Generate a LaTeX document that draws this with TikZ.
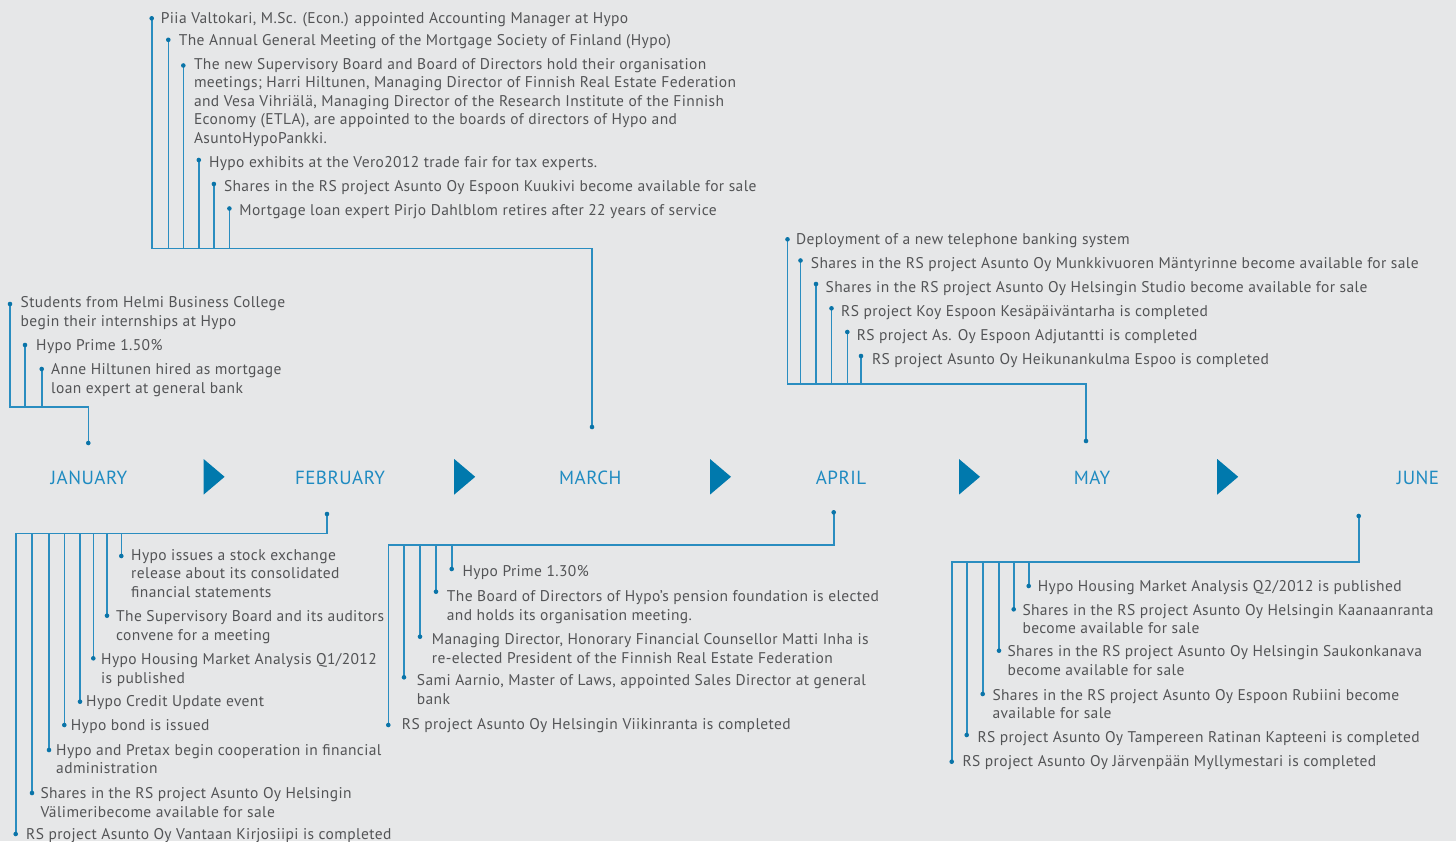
\documentclass[tikz,border=0pt]{standalone}
\usepackage{fontspec}
\setmainfont{PT Sans}[LetterSpace=2.5]
\definecolor{bgc}{HTML}{E6E7E8}
\definecolor{lineblue}{HTML}{2A8DC0}
\definecolor{dotblue}{HTML}{0A74A8}
\definecolor{monthblue}{HTML}{1F8BC1}
\definecolor{triblue}{HTML}{0079AD}
\definecolor{txtgrey}{HTML}{535456}
\pgfdeclarelayer{background}
\pgfsetlayers{background,main}
\tikzset{
  dot/.style={circle, fill=dotblue, inner sep=0pt, minimum size=4.6pt},
  conn/.style={draw=lineblue, line width=1.6pt},
  evt/.style={anchor=north west, inner sep=0pt, align=left, text=txtgrey, font=\fontsize{15.5}{18.5}\selectfont},
  month/.style={anchor=base, inner sep=0pt, text=monthblue, font=\fontsize{19}{22}\selectfont},
  tri/.style={fill=triblue}
}
\newcommand\evitem[6]{%
  \node[dot] (#1) at (#2,#3) {};
  \node[evt] (#1t) at (#4,#5-12.95) {\strut #6};
}
\begin{document}
\begin{tikzpicture}[x=1pt,y=-1pt]
\begin{pgfonlayer}{background}
\fill[bgc] (0,0) rectangle (1456,841);
\end{pgfonlayer}
\useasboundingbox (0,0) rectangle (1456,841);

% ---------- months ----------
\node[month] (jan) at (89,484.3) {JANUARY};
\node[month] (feb) at (340,484.3) {FEBRUARY};
\node[month] (marl) at (590.3,484.3) {MARCH};
\node[month] (apr) at (841,484.3) {APRIL};
\node[month] (may) at (1092,484.3) {MAY};
\node[month] (jun) at (1418,484.3) {JUNE};
\foreach \tx in {203.6,454.2,710,959,1217.2}
  \fill[tri] (\tx,459) -- (\tx+21,476.8) -- (\tx,494.6) -- cycle;

% ---------- January ----------
\evitem{j1}{10}{304}{20.5}{307.7}{Students from Helmi Business College\\begin their internships at Hypo}
\evitem{j2}{25}{345}{36}{350}{Hypo Prime 1.50\%}
\evitem{j3}{41.7}{369}{51}{374.3}{Anne Hiltunen hired as mortgage\\loan expert at general bank}
\node[dot] (jd) at (88.3,443) {};
\coordinate (jh) at (88.3,407);

% ---------- March ----------
\evitem{m1}{151.7}{18.3}{160.7}{23.3}{Piia Valtokari, M.Sc. (Econ.) appointed Accounting Manager at Hypo}
\evitem{m2}{168.3}{39.8}{178.6}{45.5}{The Annual General Meeting of the Mortgage Society of Finland (Hypo)}
\evitem{m3}{183.3}{65.5}{193.8}{69}{The new Supervisory Board and Board of Directors hold their organisation\\meetings; Harri Hiltunen, Managing Director of Finnish Real Estate Federation\\and Vesa Vihriälä, Managing Director of the Research Institute of the Finnish\\Economy (ETLA), are appointed to the boards of directors of Hypo and\\AsuntoHypoPankki.}
\evitem{m4}{198.8}{160}{208.8}{167.3}{Hypo exhibits at the Vero2012 trade fair for tax experts.}
\evitem{m5}{213.9}{184}{223.8}{191.5}{Shares in the RS project Asunto Oy Espoon Kuukivi become available for sale}
\evitem{m6}{229.4}{208.5}{239.2}{215.6}{Mortgage loan expert Pirjo Dahlblom retires after 22 years of service}
\node[dot] (md) at (592,427) {};
\coordinate (mh) at (592,248.3);

% ---------- May ----------
\evitem{y1}{787.5}{239.3}{796}{244}{Deployment of a new telephone banking system}
\evitem{y2}{800.5}{260.5}{810.7}{268}{Shares in the RS project Asunto Oy Munkkivuoren Mäntyrinne become available for sale}
\evitem{y3}{816}{284}{825.5}{292.3}{Shares in the RS project Asunto Oy Helsingin Studio become available for sale}
\evitem{y4}{831.5}{308.3}{841}{316.5}{RS project Koy Espoon Kesäpäiväntarha is completed}
\evitem{y5}{847.3}{332}{856.6}{340.5}{RS project As. Oy Espoon Adjutantti is completed}
\evitem{y6}{861}{356}{871.8}{364.3}{RS project Asunto Oy Heikunankulma Espoo is completed}
\node[dot] (yd) at (1086,441) {};
\coordinate (yh) at (1086,384);

% ---------- February ----------
\node[dot] (fd) at (327,514) {};
\coordinate (fh) at (327,533.3);
\evitem{f1}{121.3}{556}{131}{560}{Hypo issues a stock exchange\\release about its consolidated\\financial statements}
\evitem{f2}{107}{615.7}{116}{621.7}{The Supervisory Board and its auditors\\convene for a meeting}
\evitem{f3}{93.3}{658.3}{101}{664.3}{Hypo Housing Market Analysis Q1/2012\\is published}
\evitem{f4}{80}{701.7}{86}{706.7}{Hypo Credit Update event}
\evitem{f5}{64.3}{725}{70.7}{730}{Hypo bond is issued}
\evitem{f6}{49}{750}{56}{755}{Hypo and Pretax begin cooperation in financial\\administration}
\evitem{f7}{32}{793}{40.3}{798.3}{Shares in the RS project Asunto Oy Helsingin\\Välimeribecome available for sale}
\evitem{f8}{15.7}{834}{26}{839.5}{RS project Asunto Oy Vantaan Kirjosiipi is completed}

% ---------- April ----------
\node[dot] (ad) at (833.7,512.3) {};
\coordinate (ah) at (833.7,545);
\evitem{a1}{451.7}{569}{462.3}{576.3}{Hypo Prime 1.30\%}
\evitem{a2}{436}{591.7}{446.7}{601.5}{The Board of Directors of Hypo’s pension foundation is elected\\and holds its organisation meeting.}
\evitem{a3}{420}{636.7}{431.7}{644.3}{Managing Director, Honorary Financial Counsellor Matti Inha is\\re-elected President of the Finnish Real Estate Federation}
\evitem{a4}{404}{677.3}{416.7}{685.5}{Sami Aarnio, Master of Laws, appointed Sales Director at general\\bank}
\evitem{a5}{388.3}{725}{401.7}{729}{RS project Asunto Oy Helsingin Viikinranta is completed}

% ---------- June ----------
\node[dot] (ud) at (1358.7,516) {};
\coordinate (uh) at (1358.7,561.7);
\evitem{u1}{1028.7}{586}{1037.7}{591}{Hypo Housing Market Analysis Q2/2012 is published}
\evitem{u2}{1013.7}{609.3}{1022.3}{615}{Shares in the RS project Asunto Oy Helsingin Kaanaanranta\\become available for sale}
\evitem{u3}{999}{650.7}{1007.3}{656.7}{Shares in the RS project Asunto Oy Helsingin Saukonkanava\\become available for sale}
\evitem{u4}{982.7}{694}{992.3}{700}{Shares in the RS project Asunto Oy Espoon Rubiini become\\available for sale}
\evitem{u5}{966.7}{735}{977.3}{742.3}{RS project Asunto Oy Tampereen Ratinan Kapteeni is completed}
\evitem{u6}{951.7}{761.7}{962.3}{766.7}{RS project Asunto Oy Järvenpään Myllymestari is completed}

% ---------- connectors ----------
\begin{pgfonlayer}{background}
\draw[conn] (j1.center) -- (j1.center |- jh) -- (jh) -- (jd.center);
\foreach \n in {j2,j3} \draw[conn] (\n.center) -- (\n.center |- jh);
\draw[conn] (m1.center) -- (m1.center |- mh) -- (mh) -- (md.center);
\foreach \n in {m2,m3,m4,m5,m6} \draw[conn] (\n.center) -- (\n.center |- mh);
\draw[conn] (y1.center) -- (y1.center |- yh) -- (yh) -- (yd.center);
\foreach \n in {y2,y3,y4,y5,y6} \draw[conn] (\n.center) -- (\n.center |- yh);
\draw[conn] (f8.center) -- (f8.center |- fh) -- (fh) -- (fd.center);
\foreach \n in {f1,f2,f3,f4,f5,f6,f7} \draw[conn] (\n.center) -- (\n.center |- fh);
\draw[conn] (a5.center) -- (a5.center |- ah) -- (ah) -- (ad.center);
\foreach \n in {a1,a2,a3,a4} \draw[conn] (\n.center) -- (\n.center |- ah);
\draw[conn] (u6.center) -- (u6.center |- uh) -- (uh) -- (ud.center);
\foreach \n in {u1,u2,u3,u4,u5} \draw[conn] (\n.center) -- (\n.center |- uh);
\end{pgfonlayer}
\end{tikzpicture}
\end{document}
